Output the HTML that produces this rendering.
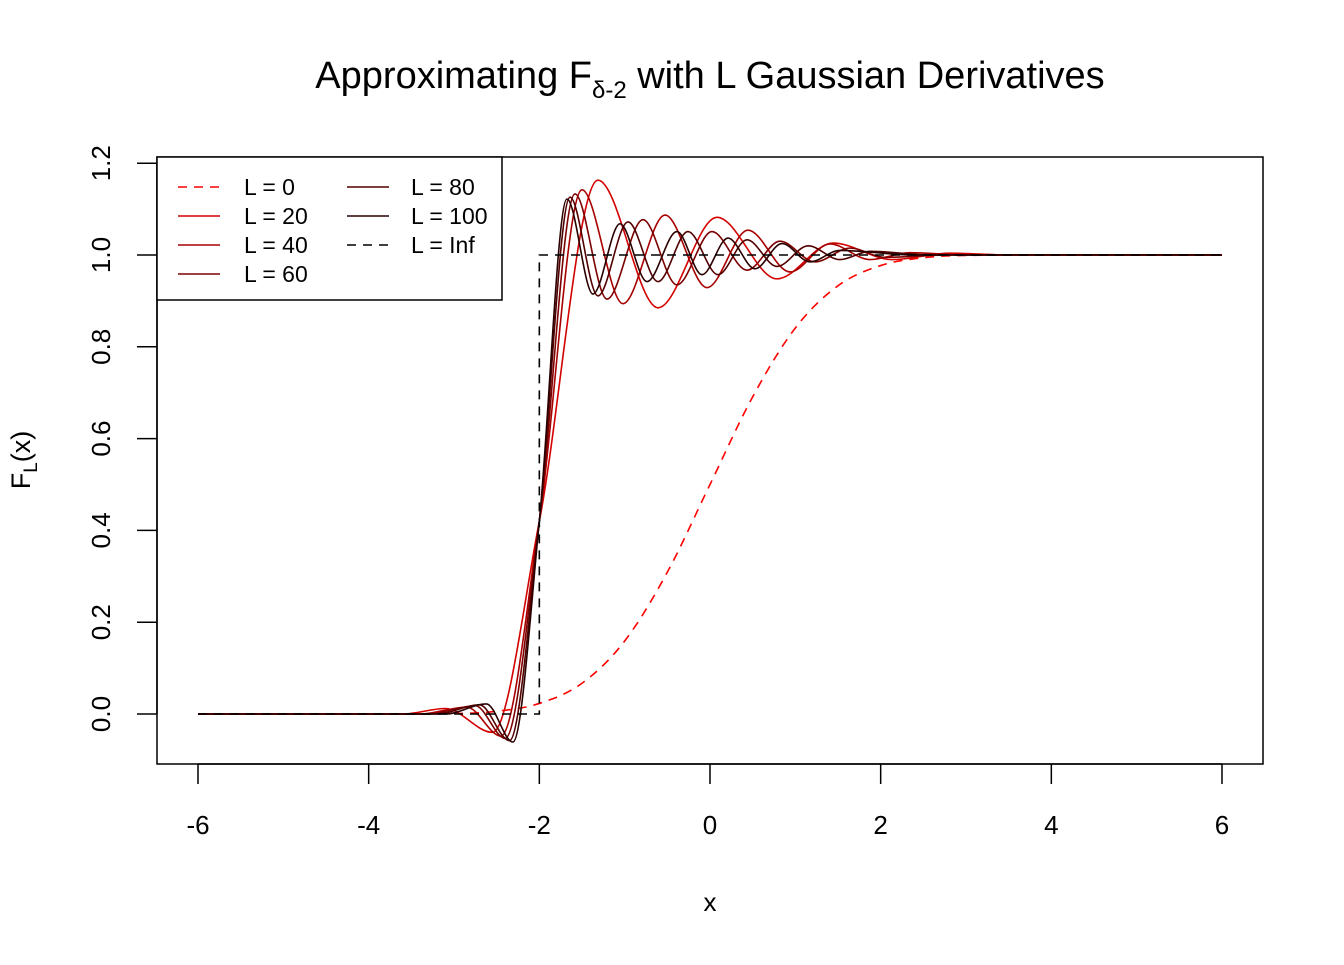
<!DOCTYPE html>
<html><head><meta charset="utf-8"><style>
body{margin:0;background:#fff}
svg text{font-family:"Liberation Sans",Arial,sans-serif;fill:#000}
</style></head><body>
<svg id="chart" width="1344" height="960" xmlns="http://www.w3.org/2000/svg">
<rect width="1344" height="960" fill="#fff"/>
<text x="710" y="88" font-size="38" text-anchor="middle">Approximating F<tspan font-size="24" dy="10">δ-2</tspan><tspan dy="-10"> with L Gaussian Derivatives</tspan></text>
<rect x="157" y="157" width="1106" height="607" fill="none" stroke="#000" stroke-width="1.5"/>
<g id="series"></g>
<g id="axes"></g>
<text x="710" y="911" font-size="26" text-anchor="middle">x</text>
<text transform="translate(30,460) rotate(-90)" font-size="27" text-anchor="middle">F<tspan font-size="19" dy="7">L</tspan><tspan dy="-7">(x)</tspan></text>
<g>
<rect x="157" y="157" width="345" height="143" fill="#fff" stroke="#000" stroke-width="1.5"/>
<g id="legend-items"></g>
</g>
</svg>
<script>
const xTicks=[-6,-4,-2,0,2,4,6];
const yTicks=[0,0.2,0.4,0.6,0.8,1.0,1.2];
const yTickLabels=["0.0","0.2","0.4","0.6","0.8","1.0","1.2"];
const seriesNames=["L = 0","L = 20","L = 40","L = 60","L = 80","L = 100","L = Inf"];
const x0=[-6,-4,-3,-2.5,-2,-1.5,-1,-0.5,0,0.5,1,1.5,2,2.5,3,4,6];
const y0=[0,0,0.001,0.006,0.023,0.067,0.159,0.309,0.5,0.691,0.841,0.933,0.977,0.994,0.999,1,1];
const x20=[-6,-3.6,-3.1,-2.55,-2.0,-1.313,-0.609,0.082,0.785,1.441,2.14,2.81,3.5,6];
const y20=[0,0,0.012,-0.04,0.42,1.163,0.885,1.082,0.948,1.026,0.99,1.004,1,1];
const x40=[-6,-3.4,-2.85,-2.45,-2.0,-1.5,-1.02,-0.527,-0.035,0.445,0.938,1.406,1.875,2.34,3,6];
const y40=[0,0,0.015,-0.048,0.42,1.142,0.894,1.087,0.929,1.054,0.963,1.024,0.99,1.005,1,1];
const x60=[-6,-3.3,-2.75,-2.4,-2.0,-1.582,-1.207,-0.785,-0.387,0.023,0.434,0.82,1.23,1.64,2.05,2.8,6];
const y60=[0,0,0.018,-0.053,0.42,1.133,0.904,1.077,0.935,1.051,0.967,1.03,0.985,1.015,0.995,1,1];
const x80=[-6,-3.2,-2.7,-2.35,-2.0,-1.64,-1.313,-0.961,-0.609,-0.258,0.094,0.434,0.785,1.15,1.52,1.875,2.6,6];
const y80=[0,0,0.02,-0.058,0.42,1.126,0.911,1.072,0.942,1.051,0.957,1.033,0.975,1.02,0.99,1.008,1,1];
const x100=[-6,-3.1,-2.62,-2.31,-2.0,-1.676,-1.371,-1.055,-0.738,-0.387,-0.094,0.211,0.527,0.844,1.17,1.52,2.4,6];
const y100=[0,0,0.022,-0.061,0.42,1.122,0.915,1.068,0.942,1.051,0.957,1.037,0.97,1.025,0.985,1.01,1,1];
const xInf=[-6,-2,-2,6];
const yInf=[0,0,1,1];

const sx=v=>710+v*85.333;
const sy=v=>714-v*459;
const NS="http://www.w3.org/2000/svg";
function mk(tag,attrs,parent){const e=document.createElementNS(NS,tag);for(const k in attrs)e.setAttribute(k,attrs[k]);parent.appendChild(e);return e;}

function monoPath(xs,ys){
  const n=xs.length,X=xs.map(sx),Y=ys.map(sy);
  const d=[],m=new Array(n);
  for(let i=0;i<n-1;i++)d.push((Y[i+1]-Y[i])/(X[i+1]-X[i]));
  m[0]=d[0];m[n-1]=d[n-2];
  for(let i=1;i<n-1;i++){m[i]=(d[i-1]*d[i]<=0)?0:(d[i-1]+d[i])/2;}
  for(let i=0;i<n-1;i++){if(d[i]===0){m[i]=0;m[i+1]=0;continue;}
    const a=m[i]/d[i],b=m[i+1]/d[i],s=a*a+b*b;if(s>9){const t=3/Math.sqrt(s);m[i]=t*a*d[i];m[i+1]=t*b*d[i];}}
  let p="M"+X[0]+","+Y[0];
  for(let i=0;i<n-1;i++){const h=(X[i+1]-X[i])/3;
    p+=" C"+(X[i]+h)+","+(Y[i]+m[i]*h)+" "+(X[i+1]-h)+","+(Y[i+1]-m[i+1]*h)+" "+X[i+1]+","+Y[i+1];}
  return p;
}
const sg=document.getElementById('series');
const defs=[[x20,y20,"#d40000",null,"line-l20"],[x40,y40,"#a80000",null,"line-l40"],[x60,y60,"#7d0000",null,"line-l60"],[x80,y80,"#520000",null,"line-l80"],[x100,y100,"#2a0000",null,"line-l100"]];
let e=mk('path',{d:monoPath(x0,y0),fill:"none",stroke:"#ff0000","stroke-width":1.6,"stroke-dasharray":"9,7"},sg);


for(const s of defs){
  e=mk('path',{d:monoPath(s[0],s[1]),fill:"none",stroke:s[2],"stroke-width":1.6},sg);
  
  
}
let pInf="M"+xInf.map((v,i)=>sx(v)+","+sy(yInf[i])).join(" L");
e=mk('path',{d:pInf,fill:"none",stroke:"#000","stroke-width":1.6,"stroke-dasharray":"9,7"},sg);



const ax=document.getElementById('axes');
e=mk('line',{x1:sx(xTicks[0]),x2:sx(xTicks[xTicks.length-1]),y1:764,y2:764,stroke:"#000","stroke-width":1.5},ax);


for(const t of xTicks){
  e=mk('line',{x1:sx(t),x2:sx(t),y1:764,y2:784,stroke:"#000","stroke-width":1.5},ax);
  
  
  e=mk('text',{x:sx(t),y:834,"font-size":26,"text-anchor":"middle"},ax);e.textContent=String(t);
  
  
}
e=mk('line',{x1:157,x2:157,y1:sy(yTicks[0]),y2:sy(yTicks[yTicks.length-1]),stroke:"#000","stroke-width":1.5},ax);


yTicks.forEach((t,i)=>{
  e=mk('line',{x1:137,x2:157,y1:sy(t),y2:sy(t),stroke:"#000","stroke-width":1.5},ax);
  
  
  e=mk('text',{transform:"translate(110,"+sy(t)+") rotate(-90)","font-size":26,"text-anchor":"middle"},ax);e.textContent=yTickLabels[i];
  
  
});

const lg=document.getElementById('legend-items');
const lcol=["#ff0000","#d40000","#a80000","#7d0000","#520000","#2a0000","#000"];
const ldash=["9,7",null,null,null,null,null,"9,7"];
seriesNames.forEach((nm,i)=>{
  const col=i<4?0:1,row=i<4?i:i-4;
  const lx=col?347:178,tx=col?411:244,yy=187+row*29;
  const g=mk('g',{},lg);
  
  
  const a={x1:lx,x2:lx+42,y1:yy,y2:yy,stroke:lcol[i],"stroke-width":1.6};if(ldash[i])a["stroke-dasharray"]=ldash[i];
  mk('line',a,g);
  const t=mk('text',{x:tx,y:yy+8,"font-size":23},g);t.textContent=nm;
});
</script>
</body></html>
